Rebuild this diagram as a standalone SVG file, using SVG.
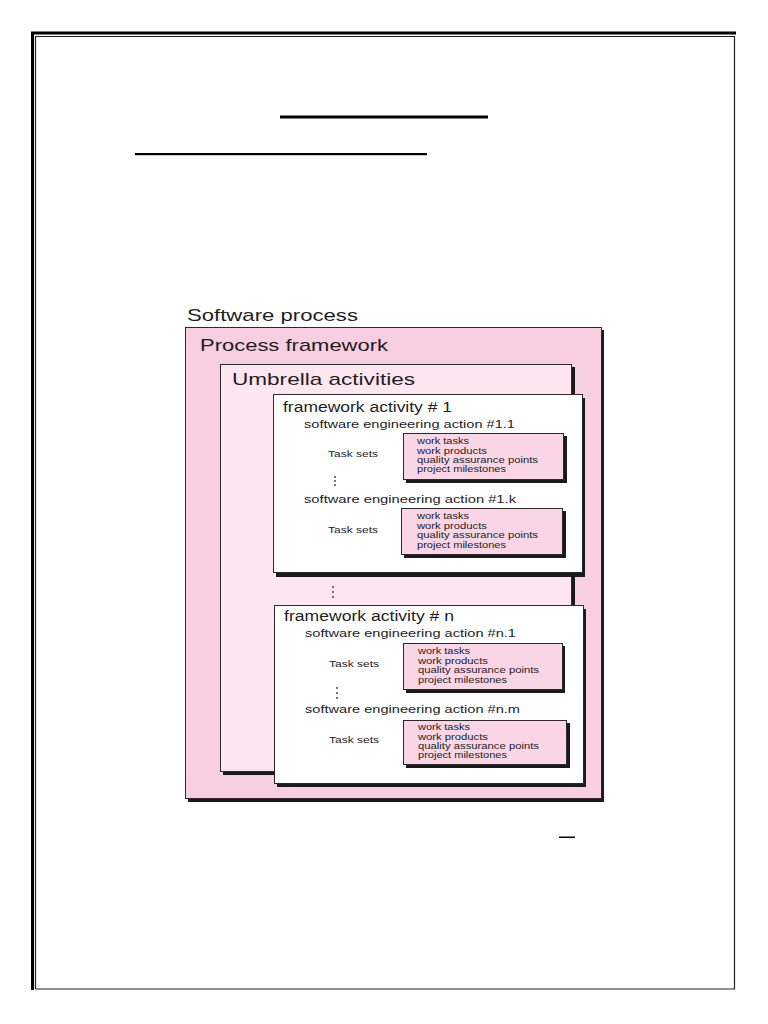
<svg xmlns="http://www.w3.org/2000/svg" width="768" height="1024" viewBox="0 0 768 1024">
<style>
.t{font-family:"Liberation Sans",Arial,sans-serif;fill:#1e1e1e}
.big{font-size:17px}
.mid{font-size:14px}
.sm{font-size:11.5px}
.xs{font-size:9.5px}
.tiny{font-size:8.2px}
.sh{fill:#1a1a1a}
.box{stroke:#2a2a2a;stroke-width:1}
.dot{fill:#333}
</style>
<rect width="768" height="1024" fill="#ffffff"/>
<g id="page-border">
<path d="M32.5,990 V33 H736" fill="none" stroke="#000" stroke-width="3"/>
<path d="M35.5,989 V36.5 H734.5 V989 H35.5" fill="none" stroke="#222" stroke-width="1.2"/>
</g>
<g id="heading-lines">
<rect x="280" y="115.5" width="208" height="3" fill="#000"/>
<rect x="135" y="153" width="292" height="2.2" fill="#000"/>
<rect x="559" y="836.5" width="16" height="1.5" fill="#000"/>
</g>
<g id="software-process">
<text class="t big" x="187" y="321" textLength="171" lengthAdjust="spacingAndGlyphs">Software process</text>
</g>
<g id="process-framework">
<rect class="sh" x="188" y="330" width="416" height="472"/>
<rect class="box" x="185.5" y="327.5" width="416" height="471" fill="#f8cfe1"/>
<text class="t big" x="200" y="351" textLength="188" lengthAdjust="spacingAndGlyphs">Process framework</text>
</g>
<g id="umbrella-activities">
<rect class="sh" x="223" y="367" width="352" height="408"/>
<rect class="box" x="220.5" y="364.5" width="351" height="407" fill="#fde6ef"/>
<text class="t big" x="232" y="385" textLength="183" lengthAdjust="spacingAndGlyphs">Umbrella activities</text>
</g>
<g id="framework-activity-1">
<rect class="sh" x="276" y="398" width="309" height="179"/>
<rect class="box" x="273.5" y="394.5" width="309" height="178" fill="#ffffff"/>
<text class="t mid" x="283" y="412" textLength="169" lengthAdjust="spacingAndGlyphs">framework activity # 1</text>
<text class="t sm" x="304" y="428" textLength="211" lengthAdjust="spacingAndGlyphs">software engineering action #1.1</text>
<text class="t xs" x="328" y="457" textLength="50" lengthAdjust="spacingAndGlyphs">Task sets</text>
<g id="taskset-1-1">
<rect class="sh" x="406" y="436" width="161" height="47"/>
<rect class="box" x="403.5" y="433.5" width="160" height="46" fill="#f9d5e5"/>
<text class="t tiny" x="417" y="444" textLength="52" lengthAdjust="spacingAndGlyphs">work tasks</text>
<text class="t tiny" x="417" y="454" textLength="70" lengthAdjust="spacingAndGlyphs">work products</text>
<text class="t tiny" x="417" y="463" textLength="121" lengthAdjust="spacingAndGlyphs">quality assurance points</text>
<text class="t tiny" x="417" y="472" textLength="89" lengthAdjust="spacingAndGlyphs">project milestones</text>
</g>
<circle class="dot" cx="335" cy="477" r="0.9"/><circle class="dot" cx="335" cy="481" r="0.9"/><circle class="dot" cx="335" cy="485" r="0.9"/>
<text class="t sm" x="304" y="503" textLength="212" lengthAdjust="spacingAndGlyphs">software engineering action #1.k</text>
<text class="t xs" x="328" y="533" textLength="50" lengthAdjust="spacingAndGlyphs">Task sets</text>
<g id="taskset-1-k">
<rect class="sh" x="404" y="511" width="162" height="47"/>
<rect class="box" x="401.5" y="508.5" width="161" height="46" fill="#f9d5e5"/>
<text class="t tiny" x="417" y="519" textLength="52" lengthAdjust="spacingAndGlyphs">work tasks</text>
<text class="t tiny" x="417" y="529" textLength="70" lengthAdjust="spacingAndGlyphs">work products</text>
<text class="t tiny" x="417" y="538" textLength="121" lengthAdjust="spacingAndGlyphs">quality assurance points</text>
<text class="t tiny" x="417" y="548" textLength="89" lengthAdjust="spacingAndGlyphs">project milestones</text>
</g>
</g>
<g id="ellipsis-activities">
<circle class="dot" cx="333" cy="587" r="0.9"/><circle class="dot" cx="333" cy="592" r="0.9"/><circle class="dot" cx="333" cy="597" r="0.9"/>
</g>
<g id="framework-activity-n">
<rect class="sh" x="277" y="609" width="309" height="178"/>
<rect class="box" x="274.5" y="605.5" width="309" height="178" fill="#ffffff"/>
<text class="t mid" x="284" y="621" textLength="170" lengthAdjust="spacingAndGlyphs">framework activity # n</text>
<text class="t sm" x="305" y="637" textLength="211" lengthAdjust="spacingAndGlyphs">software engineering action #n.1</text>
<text class="t xs" x="329" y="667" textLength="50" lengthAdjust="spacingAndGlyphs">Task sets</text>
<g id="taskset-n-1">
<rect class="sh" x="406" y="646" width="159" height="47"/>
<rect class="box" x="403.5" y="643.5" width="159" height="46" fill="#f9d5e5"/>
<text class="t tiny" x="418" y="654" textLength="52" lengthAdjust="spacingAndGlyphs">work tasks</text>
<text class="t tiny" x="418" y="664" textLength="70" lengthAdjust="spacingAndGlyphs">work products</text>
<text class="t tiny" x="418" y="673" textLength="121" lengthAdjust="spacingAndGlyphs">quality assurance points</text>
<text class="t tiny" x="418" y="683" textLength="89" lengthAdjust="spacingAndGlyphs">project milestones</text>
</g>
<circle class="dot" cx="337" cy="688" r="0.9"/><circle class="dot" cx="337" cy="693" r="0.9"/><circle class="dot" cx="337" cy="698" r="0.9"/>
<text class="t sm" x="305" y="713" textLength="215" lengthAdjust="spacingAndGlyphs">software engineering action #n.m</text>
<text class="t xs" x="329" y="743" textLength="50" lengthAdjust="spacingAndGlyphs">Task sets</text>
<g id="taskset-n-m">
<rect class="sh" x="406" y="723" width="164" height="45"/>
<rect class="box" x="403.5" y="720.5" width="163" height="44" fill="#f9d5e5"/>
<text class="t tiny" x="418" y="730" textLength="52" lengthAdjust="spacingAndGlyphs">work tasks</text>
<text class="t tiny" x="418" y="740" textLength="70" lengthAdjust="spacingAndGlyphs">work products</text>
<text class="t tiny" x="418" y="749" textLength="121" lengthAdjust="spacingAndGlyphs">quality assurance points</text>
<text class="t tiny" x="418" y="758" textLength="89" lengthAdjust="spacingAndGlyphs">project milestones</text>
</g>
</g>
<g id="connectors"></g>
</svg>
